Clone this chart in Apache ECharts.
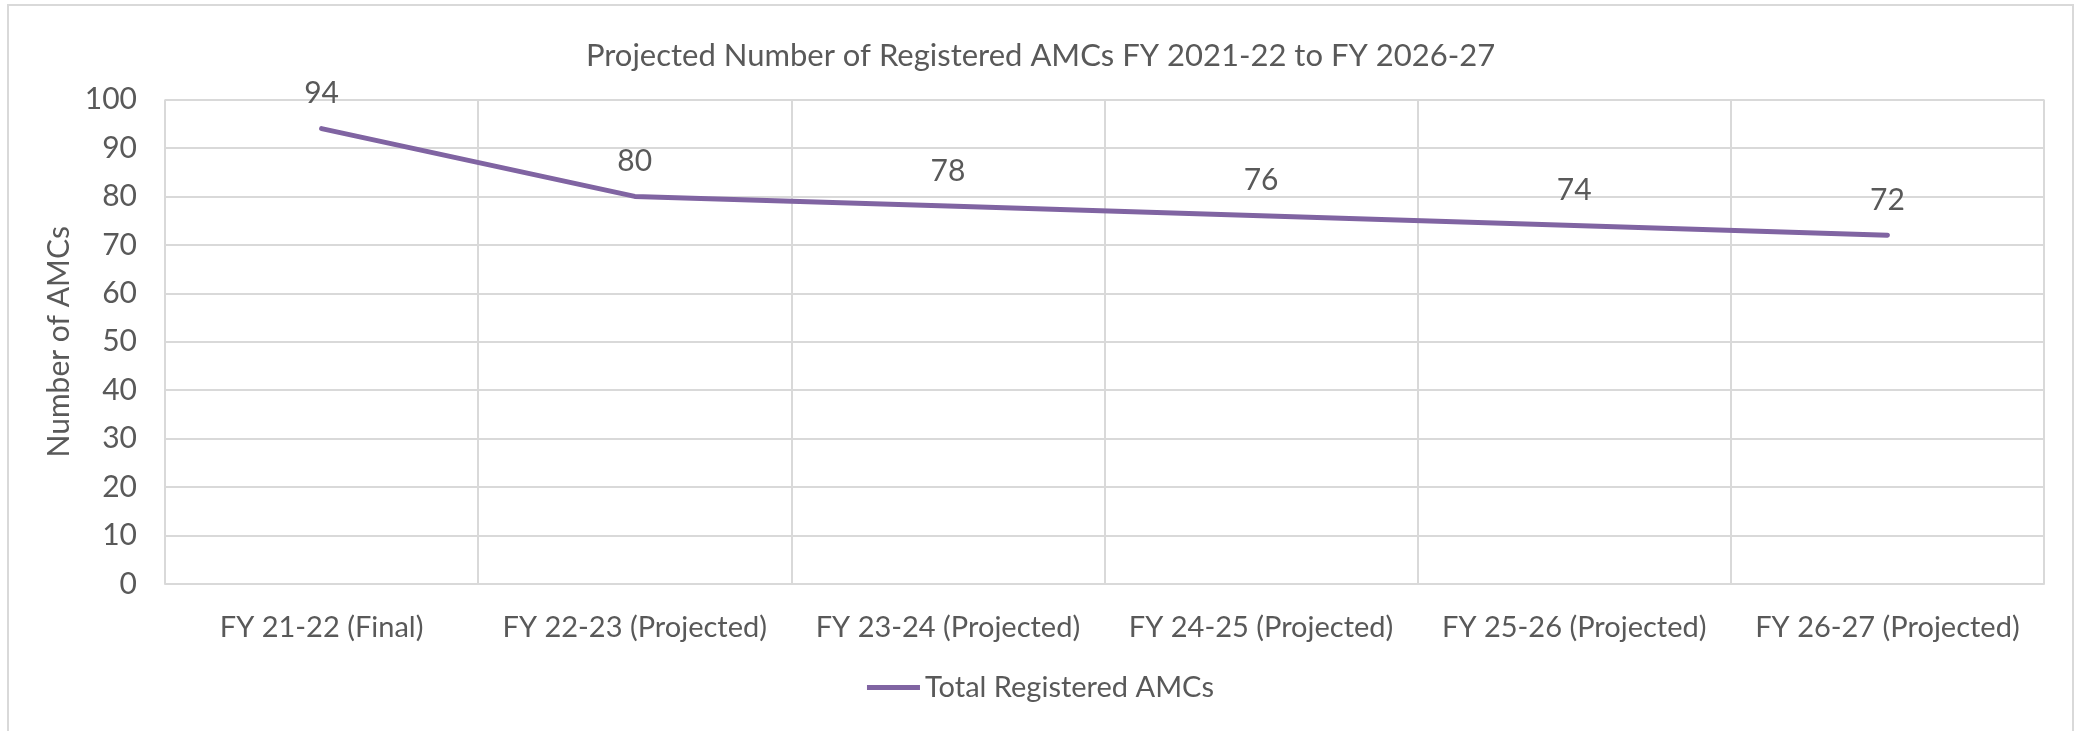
<!DOCTYPE html>
<html>
<head>
<meta charset="utf-8">
<script src="https://cdn.jsdelivr.net/npm/echarts@6/dist/echarts.min.js"></script>
<style>
html,body{margin:0;padding:0;background:#fff;}
#chart{width:2081px;height:731px;}
</style>
</head>
<body>
<div id="chart"></div>
<script>
const titleText = 'Projected Number of Registered AMCs FY 2021-22 to FY 2026-27';
const categories = ['FY 21-22 (Final)', 'FY 22-23 (Projected)', 'FY 23-24 (Projected)', 'FY 24-25 (Projected)', 'FY 25-26 (Projected)', 'FY 26-27 (Projected)'];
const seriesName = 'Total Registered AMCs';
const values = [94, 80, 78, 76, 74, 72];
const yAxisName = 'Number of AMCs';

const FONT = 'Lato';
const TXT = '#595959';
const chart = echarts.init(document.getElementById('chart'), null, {renderer: 'canvas'});
chart.setOption({
  animation: false,
  backgroundColor: '#fff',
  graphic: [{
    type: 'rect', silent: true,
    shape: {x: 8, y: 5, width: 2065, height: 740},
    style: {fill: 'none', stroke: '#d9d9d9', lineWidth: 2}
  }],
  title: {
    text: titleText, left: 'center', top: 35,
    textStyle: {fontFamily: FONT, fontSize: 31, fontWeight: 'normal', color: TXT}
  },
  legend: {
    data: [{name: seriesName, icon: 'rect'}],
    bottom: 24, left: 'center',
    itemWidth: 53, itemHeight: 5, itemGap: 10,
    textStyle: {fontFamily: FONT, fontSize: 29, color: TXT, padding: [0,0,0,0]}
  },
  grid: {left: 165, right: 37, top: 99.5, bottom: 147, containLabel: false},
  xAxis: {
    type: 'category', data: categories, boundaryGap: true,
    axisLine: {show: true, lineStyle: {color: '#d9d9d9', width: 2}},
    axisTick: {show: false},
    splitLine: {show: true, lineStyle: {color: '#d9d9d9', width: 2}},
    axisLabel: {fontFamily: FONT, fontSize: 29, color: TXT, margin: 29, interval: 0}
  },
  yAxis: {
    type: 'value', min: 0, max: 100, interval: 10,
    name: yAxisName, nameLocation: 'middle', nameGap: 89, nameRotate: 90,
    nameTextStyle: {fontFamily: FONT, fontSize: 30, color: TXT},
    axisLine: {show: false}, axisTick: {show: false},
    splitLine: {show: true, lineStyle: {color: '#d9d9d9', width: 2}},
    axisLabel: {fontFamily: FONT, fontSize: 30, color: TXT, margin: 28}
  },
  series: [{
    name: seriesName, type: 'line', data: values,
    showSymbol: true, symbol: 'circle', symbolSize: 0.1,
    lineStyle: {color: '#8064A2', width: 5, cap: 'round', join: 'round'},
    itemStyle: {color: '#8064A2'},
    label: {show: true, position: 'top', distance: 20, fontFamily: FONT, fontSize: 30, color: TXT}
  }]
});
</script>
</body>
</html>
